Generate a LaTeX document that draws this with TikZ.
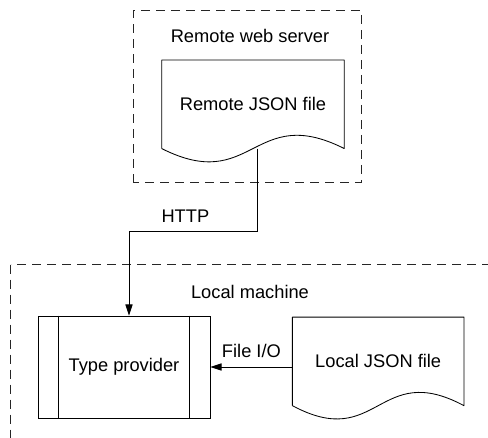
\documentclass[tikz,border=0pt]{standalone}
\usepackage{fontspec}
\setmainfont{Liberation Sans}
\usetikzlibrary{positioning,arrows.meta,calc}
\newcommand{\diagfont}{\fontsize{13}{15.6}\selectfont}
\tikzset{
  proc/.style      = {draw, line width=0.6pt, minimum width=43mm,
                      minimum height=25.5mm, font=\diagfont, inner sep=0pt},
  docfile/.style   = {minimum height=22mm, align=center,
                      font=\diagfont, inner sep=0pt},
  outline/.style   = {draw, line width=0.6pt, line join=round},
  zone/.style      = {draw=black!85, line width=0.6pt,
                      dash pattern=on 2.25mm off 1.5mm},
  zonelabel/.style = {font=\diagfont, inner sep=0pt},
  flow/.style      = {-{Triangle[length=2.8mm,width=1.8mm]}, line width=0.6pt}
}

\begin{document}
\begin{tikzpicture}

  % Frame of the picture
  \useasboundingbox (-31mm,-17.75mm) rectangle (91mm,91.75mm);
  \clip (-31mm,-17.75mm) rectangle (91mm,91.75mm);

  % Local machine
  \node[proc]                                         (tp)   at (0,0) {Type provider};
  \node[docfile, minimum width=42.75mm, right=20.5mm of tp, yshift=1.4mm] (ldoc) {Local JSON file};

  % Remote web server
  \node[docfile, minimum width=45.5mm, above=41.75mm of tp, xshift=32.25mm] (rdoc) {Remote JSON file};

  % Document outlines with wavy bottom
  \foreach \d in {rdoc,ldoc}
    \draw[outline] (\d.south west) -- (\d.north west) -- (\d.north east) -- (\d.south east)
      .. controls ($(\d.south)+(0,11.5mm)$) and ($(\d.south)+(0,-11.5mm)$) .. (\d.south west);

  % Side bars of the type provider
  \draw[outline] ([xshift=5.25mm]tp.north west) -- ([xshift=5.25mm]tp.south west);
  \draw[outline] ([xshift=-5.25mm]tp.north east) -- ([xshift=-5.25mm]tp.south east);

  % Zones
  \draw[zone] ($(rdoc.south west)+(-7mm,-8.5mm)$) rectangle ($(rdoc.north east)+(4.25mm,12.5mm)$);
  \draw[zone] ($(tp.north west)+(-6.75mm,12.75mm)$) rectangle ++(150mm,-60mm);
  \node[zonelabel] (rname) at ($(rdoc.north)+(-0.75mm,5.9mm)$) {Remote web server};
  \node[zonelabel] (lname) at ($(tp.north)+(31.5mm,6mm)$)     {Local machine};

  % Connectors
  \draw[flow] ([xshift=1mm]rdoc.south) -- ++(0,-20.75mm) coordinate (bend)
              -| ([xshift=1.25mm]tp.north);
  \node[zonelabel] (http) at ($(bend)+(-17.9mm,3.75mm)$) {HTTP};

  \draw[flow] (ldoc.west |- tp.east) -- node[zonelabel, above=2.3mm] (fio) {File I/O} (tp.east);

\end{tikzpicture}
\end{document}
